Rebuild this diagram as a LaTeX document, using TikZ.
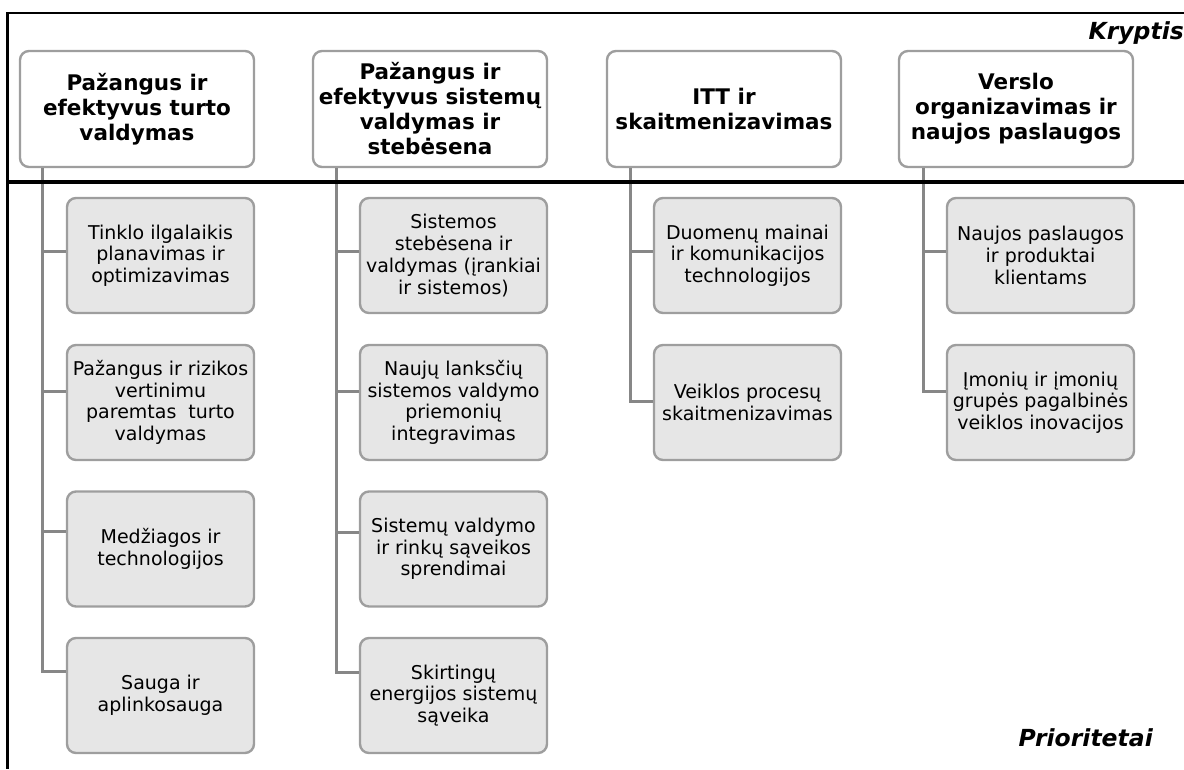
\documentclass[tikz,border=0pt]{standalone}
\usepackage{fontspec}
\setmainfont{DejaVu Sans}
\definecolor{boxgray}{RGB}{158,158,158}
\definecolor{linegray}{RGB}{135,135,135}
\definecolor{subfill}{RGB}{230,230,230}
\begin{document}
\begin{tikzpicture}[x=1pt,y=-1pt,
  cat/.style={draw=boxgray, line width=2.4pt, rounded corners=9pt, fill=white,
    minimum width=234pt, minimum height=116pt, align=center, inner sep=0pt,
    font=\bfseries\fontsize{21.5}{25}\selectfont},
  sub/.style={draw=boxgray, line width=2.4pt, rounded corners=9pt, fill=subfill,
    minimum width=187pt, minimum height=115pt, align=center, inner sep=0pt,
    font=\fontsize{19}{21.7}\selectfont},
  conn/.style={draw=linegray, line width=3pt},
  lbl/.style={anchor=east, inner sep=0pt, font=\bfseries\itshape\fontsize{23.5}{26}\selectfont}]
\useasboundingbox (0,0) rectangle (1184,769);

% categories
\node[cat] (k1) at (137,109) {Pažangus ir\\efektyvus turto\\valdymas};
\node[cat] (k2) at (430,109) {Pažangus ir\\efektyvus sistemų\\valdymas ir\\stebėsena};
\node[cat] (k3) at (724,109) {ITT ir\\skaitmenizavimas};
\node[cat] (k4) at (1016,109) {Verslo\\organizavimas ir\\naujos paslaugos};

% priorities
\node[sub] (c11) at (160.5,255.5) {Tinklo ilgalaikis\\planavimas ir\\optimizavimas};
\node[sub] (c12) at (160.5,402.5) {Pažangus ir rizikos\\vertinimu\\paremtas~~turto\\valdymas};
\node[sub] (c13) at (160.5,549) {Medžiagos ir\\technologijos};
\node[sub] (c14) at (160.5,695.5) {Sauga ir\\aplinkosauga};

\node[sub] (c21) at (453.5,255.5) {Sistemos\\stebėsena ir\\valdymas (įrankiai\\ir sistemos)};
\node[sub] (c22) at (453.5,402.5) {Naujų lanksčių\\sistemos valdymo\\priemonių\\integravimas};
\node[sub] (c23) at (453.5,549) {Sistemų valdymo\\ir rinkų sąveikos\\sprendimai};
\node[sub] (c24) at (453.5,695.5) {Skirtingų\\energijos sistemų\\sąveika};

\node[sub] (c31) at (747.5,255.5) {Duomenų mainai\\ir komunikacijos\\technologijos};
\node[sub] (c32) at (747.5,402.5) {Veiklos procesų\\skaitmenizavimas};

\node[sub] (c41) at (1040.5,255.5) {Naujos paslaugos\\ir produktai\\klientams};
\node[sub] (c42) at (1040.5,402.5) {Įmonių ir įmonių\\grupės pagalbinės\\veiklos inovacijos};

% trunk and branch coordinates
\coordinate (t1) at (42,168);
\coordinate (t2) at (336,168);
\coordinate (t3) at (630,168);
\coordinate (t4) at (923,168);
\coordinate (b11) at (42,251);
\coordinate (b12) at (42,391);
\coordinate (b13) at (42,531);
\coordinate (b14) at (42,671);
\coordinate (b21) at (336,251);
\coordinate (b22) at (336,391);
\coordinate (b23) at (336,532);
\coordinate (b24) at (336,672);
\coordinate (b31) at (630,251);
\coordinate (b32) at (630,401);
\coordinate (b41) at (923,251);
\coordinate (b42) at (923,391);

% connectors
\draw[conn] (t1) -- (b14) -- (b14 -| c14.west);
\draw[conn] (b11) -- (b11 -| c11.west);
\draw[conn] (b12) -- (b12 -| c12.west);
\draw[conn] (b13) -- (b13 -| c13.west);
\draw[conn] (t2) -- (b24) -- (b24 -| c24.west);
\draw[conn] (b21) -- (b21 -| c21.west);
\draw[conn] (b22) -- (b22 -| c22.west);
\draw[conn] (b23) -- (b23 -| c23.west);
\draw[conn] (t3) -- (b32) -- (b32 -| c32.west);
\draw[conn] (b31) -- (b31 -| c31.west);
\draw[conn] (t4) -- (b42) -- (b42 -| c42.west);
\draw[conn] (b41) -- (b41 -| c41.west);

% frame
\coordinate (fl) at (7.5,13);
\coordinate (fr) at (1184,13);
\coordinate (fb) at (7.5,769);
\coordinate (ml) at (7.5,181.5);
\coordinate (mr) at (1184,181.5);
\draw[line width=2.6pt] (fr) -- (fl) -- (fb);
\draw[line width=4pt] (ml) -- (mr);

% labels
\node[lbl] (kr) at (1184,33) {Kryptis};
\node[lbl] (pr) at (1153,738) {Prioritetai};
\end{tikzpicture}
\end{document}
